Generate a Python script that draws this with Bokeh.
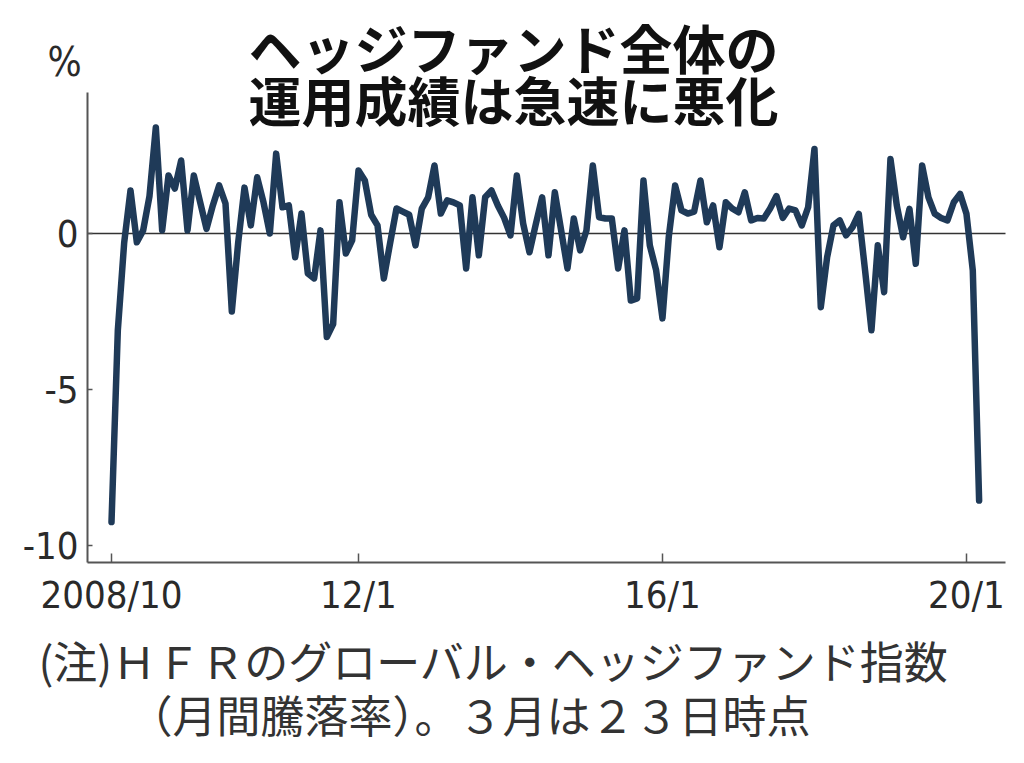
from bokeh.plotting import figure
from bokeh.models import Label, FixedTicker
from bokeh.embed import file_html
from bokeh.resources import INLINE

# ---- data (monthly returns, %, index 0 = 2008/10 ... 137 = 2020/3) ----
month_index = list(range(138))
returns = [
    -9.25, -3.1, -0.3, 1.38, -0.28, 0.1, 1.2, 3.4, 0.1, 1.86,
    1.44, 2.34, 0.1, 1.86, 1.0, 0.15, 0.9, 1.54, 0.96, -2.5,
    -0.3, 1.47, 0.26, 1.8, 1.0, 0.0, 2.56, 0.84, 0.9, -0.76,
    0.64, -1.28, -1.44, 0.1, -3.32, -2.9, 1.0, -0.64, -0.22, 2.02,
    1.7, 0.6, 0.26, -1.44, -0.3, 0.8, 0.7, 0.6, -0.38, 0.8,
    1.16, 2.18, 0.64, 1.06, 1.0, 0.9, -1.12, 1.16, -0.7, 1.16,
    1.38, 0.9, 0.5, -0.06, 1.86, 0.32, -0.6, 0.3, 1.16, -0.7,
    1.32, 0.1, -1.12, 0.48, -0.54, 0.1, 2.18, 0.52, 0.48, 0.48,
    -1.12, 0.1, -2.15, -2.08, 1.7, -0.38, -1.18, -2.72, -0.1, 1.54,
    0.74, 0.64, 0.7, 1.7, 0.36, 0.9, -0.44, 1.0, 0.8, 0.68,
    1.32, 0.42, 0.5, 0.48, 0.8, 1.2, 0.5, 0.8, 0.74, 0.26,
    0.84, 2.71, -2.36, -0.76, 0.26, 0.42, -0.06, 0.2, 0.63, -1.2,
    -3.1, -0.38, -1.88, 2.39, 0.9, -0.12, 0.79, -0.97, 2.18, 1.16,
    0.63, 0.5, 0.42, 1.0, 1.27, 0.63, -1.18, -8.56,
]
x_tick_pos = [0, 39, 87, 135]
x_tick_labels = ["2008/10", "12/1", "16/1", "20/1"]
y_tick_pos = [0, -5, -10]
y_tick_labels = ["0", "-5", "-10"]
title_lines = ["ヘッジファンド全体の", "運用成績は急速に悪化"]
note_lines = ["(注)ＨＦＲのグローバル・ヘッジファンド指数", "（月間騰落率）。３月は２３日時点"]
unit_text = "%"

# ---- layout: the frame covers the whole canvas, axes are pinned ----
W, H = 1024, 763
PX_PER_MONTH = 6.333
PX_PER_PCT = 31.2
X0_PX, Y0_PX = 111, 233          # screen position of month 0 / value 0
x_start = -X0_PX / PX_PER_MONTH
x_end = (W - X0_PX) / PX_PER_MONTH
y_end = Y0_PX / PX_PER_PCT
y_start = (Y0_PX - H) / PX_PER_PCT


def sx(px):
    return (px - X0_PX) / PX_PER_MONTH


def sy(py):
    return (Y0_PX - py) / PX_PER_PCT


AX_L, AX_R, AX_T, AX_B = sx(87), sx(1005), sy(92), sy(562)

NUM_FONT = "DejaVu Sans Condensed, Liberation Sans"
JP_FONT = "Noto Sans CJK JP"

p = figure(width=W, height=H, x_range=(x_start, x_end), y_range=(y_start, y_end),
           output_backend="svg", toolbar_location=None,
           min_border=0, min_border_left=0, min_border_right=0,
           min_border_top=0, min_border_bottom=0)
p.background_fill_color = "white"
p.border_fill_color = "white"
p.outline_line_color = None
p.xgrid.visible = False
p.ygrid.visible = False

for ax in (p.xaxis[0], p.yaxis[0]):
    ax.axis_line_color = "#555555"
    ax.axis_line_width = 2
    ax.major_tick_line_color = "#555555"
    ax.major_tick_line_width = 1.5
    ax.minor_tick_line_color = None
    ax.major_tick_out = 0
    ax.major_label_text_font = NUM_FONT
    ax.major_label_text_font_size = "38px"
    ax.major_label_text_color = "#2a2a2a"

p.xaxis.fixed_location = AX_B
p.xaxis.bounds = (AX_L, AX_R)
p.xaxis.ticker = FixedTicker(ticks=x_tick_pos)
p.xaxis.major_label_overrides = dict(zip(x_tick_pos, x_tick_labels))
p.xaxis.major_tick_in = 9
p.xaxis.major_label_standoff = 10

p.yaxis.fixed_location = AX_L
p.yaxis.bounds = (AX_B, AX_T)
p.yaxis.ticker = FixedTicker(ticks=y_tick_pos)
p.yaxis.major_label_overrides = dict(zip(y_tick_pos, y_tick_labels))
p.yaxis.major_tick_in = 5
p.yaxis.major_label_standoff = 9

# zero reference line, from the y axis to the end of the x axis
p.segment(x0=[AX_L], y0=[0], x1=[AX_R], y1=[0], line_color="#333333", line_width=1.5)

p.line(month_index, returns, line_color="#1f3a58", line_width=6.5,
       line_join="round", line_cap="round")

for txt, ypx in zip(title_lines, [46, 98]):
    p.add_layout(Label(x=sx(513), y=sy(ypx), text=txt, text_align="center",
                       text_baseline="middle", text_font=JP_FONT,
                       text_font_size="53px", text_font_style="bold",
                       text_color="#111111"))

p.add_layout(Label(x=sx(47), y=sy(61), text=unit_text, text_align="left",
                   text_baseline="middle", text_font=NUM_FONT,
                   text_font_size="40px", text_color="#2a2a2a"))

for txt, xpx, ypx in zip(note_lines, [38, 128], [659, 713]):
    p.add_layout(Label(x=sx(xpx), y=sy(ypx), text=txt, text_align="left",
                       text_baseline="middle", text_font=JP_FONT,
                       text_font_size="44px", text_color="#333333"))

open("out.html", "w").write(file_html(p, INLINE))
